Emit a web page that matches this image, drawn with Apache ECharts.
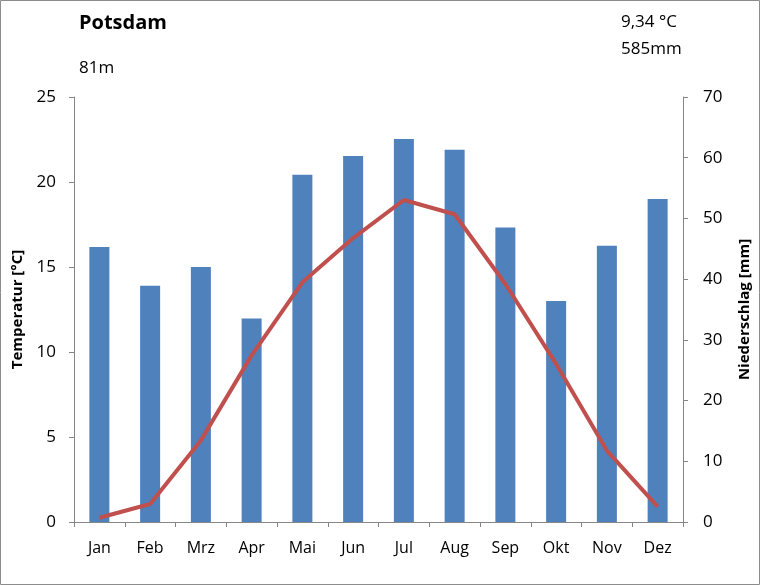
<!DOCTYPE html>
<html>
<head>
<meta charset="utf-8">
<script src="https://cdn.jsdelivr.net/npm/echarts@6/dist/echarts.min.js"></script>
<style>
html,body{margin:0;padding:0;background:#fff;}
#c{width:760px;height:585px;}
</style>
</head>
<body>
<div id="c"></div>
<script>
const months = ['Jan','Feb','Mrz','Apr','Mai','Jun','Jul','Aug','Sep','Okt','Nov','Dez'];
const niederschlag = [45.3, 38.9, 42.0, 33.5, 57.2, 60.3, 63.1, 61.3, 48.5, 36.4, 45.5, 53.2];
const temperatur = [0.25, 1.06, 4.8, 9.8, 14.1, 16.7, 18.94, 18.1, 14.0, 9.3, 4.2, 0.9];
const stationName = 'Potsdam';
const elevation = '81m';
const meanTemp = '9,34 °C';
const totalPrecip = '585mm';

const FONT = '"Open Sans", sans-serif';
const axisColor = '#868686';
const chart = echarts.init(document.getElementById('c'));
chart.setOption({
  animation: false,
  backgroundColor: '#fff',
  textStyle: {fontFamily: FONT},
  grid: {left: 74, right: 77, top: 97, bottom: 63, containLabel: false, outerBoundsMode: 'none'},
  graphic: [
    {type: 'rect', shape: {x: 0.5, y: 0.5, width: 759, height: 584}, style: {fill: 'none', stroke: '#8c8c8c', lineWidth: 1}},
    {type: 'text', left: 79, top: 13, style: {text: stationName, font: 'bold 20px ' + FONT, fill: '#000'}},
    {type: 'text', left: 79, top: 60, style: {text: elevation, font: '17px ' + FONT, fill: '#000'}},
    {type: 'text', left: 621, top: 14, style: {text: meanTemp, font: '17px ' + FONT, fill: '#000'}},
    {type: 'text', left: 621, top: 41, style: {text: totalPrecip, font: '17px ' + FONT, fill: '#000'}}
  ],
  xAxis: {
    type: 'category',
    data: months,
    boundaryGap: true,
    axisLine: {lineStyle: {color: axisColor, width: 1}},
    axisTick: {show: true, length: 5, inside: false, alignWithLabel: false, lineStyle: {color: axisColor}},
    axisLabel: {color: '#000', fontSize: 16, margin: 18, fontFamily: FONT},
    splitLine: {show: false}
  },
  yAxis: [
    {
      type: 'value', min: 0, max: 25, interval: 5, position: 'left',
      name: 'Temperatur [°C]', nameLocation: 'middle', nameRotate: 90, nameGap: 49,
      nameTextStyle: {color: '#000', fontWeight: 'bold', fontSize: 15, fontFamily: FONT},
      axisLine: {show: true, lineStyle: {color: axisColor}},
      axisTick: {show: true, length: 5, lineStyle: {color: axisColor}},
      axisLabel: {color: '#000', fontSize: 17, margin: 18, fontFamily: FONT},
      splitLine: {show: false}
    },
    {
      type: 'value', min: 0, max: 70, interval: 10, position: 'right',
      name: 'Niederschlag [mm]', nameLocation: 'middle', nameRotate: 90, nameGap: 54,
      nameTextStyle: {color: '#000', fontWeight: 'bold', fontSize: 15, fontFamily: FONT},
      axisLine: {show: true, lineStyle: {color: axisColor}},
      axisTick: {show: true, length: 5, lineStyle: {color: axisColor}},
      axisLabel: {color: '#000', fontSize: 17, margin: 20, fontFamily: FONT},
      splitLine: {show: false}
    }
  ],
  series: [
    {
      type: 'bar', yAxisIndex: 1, data: niederschlag, barWidth: 20,
      itemStyle: {color: '#4F81BD'}
    },
    {
      type: 'line', yAxisIndex: 0, data: temperatur, symbol: 'none',
      lineStyle: {color: '#C0504D', width: 4}, z: 5
    }
  ]
});
</script>
</body>
</html>
